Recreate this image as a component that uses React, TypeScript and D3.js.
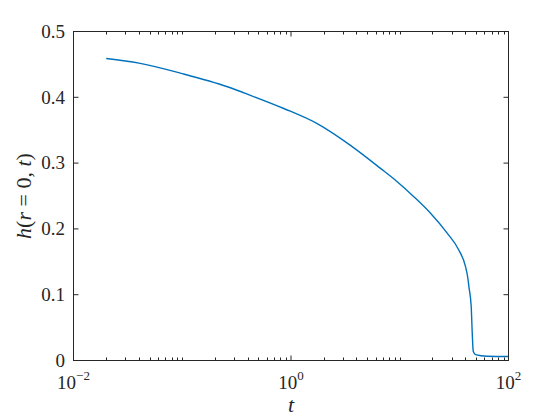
import * as d3 from "d3";

// h(r=0,t)
const tValues = [0.02, 0.04, 0.1, 0.26, 0.424, 0.859, 1.741, 3.52, 6.65, 9.48, 13.46, 19.19, 27.3, 34.9, 40.2, 42.3, 43.2, 45.4, 46.4, 47.4, 49.7, 63.7, 100];
const hValues = [0.459, 0.452, 0.436, 0.416, 0.403, 0.383, 0.36, 0.327, 0.292, 0.2717, 0.249, 0.2238, 0.1935, 0.168, 0.143, 0.125, 0.1126, 0.082, 0.042, 0.014, 0.009, 0.0065, 0.006];
const xMajor = [0.01, 1, 100];
const xMajorExp = ["\u22122", "0", "2"];
const yTickValues = [0, 0.1, 0.2, 0.3, 0.4, 0.5];

const W = 560;
const H = 420;
const left = 73.5;
const right = 508.5;
const top = 31.5;
const bottom = 360.5;
const axisColor = "#262626";
const font = "Liberation Serif, DejaVu Serif, Times New Roman, serif";

export default function App() {
  const x = d3.scaleLog().domain([0.01, 100]).range([left, right]);
  const y = d3.scaleLinear().domain([0, 0.5]).range([bottom, top]);

  const pts: [number, number][] = tValues.map((t, i) => [x(t), y(hValues[i])]);
  const line = d3.line().curve(d3.curveMonotoneX)(pts) || "";

  const minor = x.ticks().filter((t) => !xMajor.some((m) => Math.abs(m - t) < 1e-9));
  const majorLen = 5;
  const minorLen = 3;
  const txt = { fontFamily: font };

  return (
    <svg width={W} height={H} style={{ position: "absolute", left: 0, top: 0, background: "#fff" }}>
      <rect x={0} y={0} width={W} height={H} fill="#fff" />
      <path d={line} fill="none" stroke="#0072BD" strokeWidth={1.4} strokeLinejoin="round" />
      <rect x={left} y={top} width={right - left} height={bottom - top} fill="none" stroke={axisColor} strokeWidth={1} />

      {/* x ticks, inside, bottom and top */}
      {minor.map((t, i) => (
        <g key={"mn" + i} stroke={axisColor} strokeWidth={1}>
          <line x1={Math.round(x(t)) + 0.5} x2={Math.round(x(t)) + 0.5} y1={bottom} y2={bottom - minorLen} />
          <line x1={Math.round(x(t)) + 0.5} x2={Math.round(x(t)) + 0.5} y1={top} y2={top + minorLen} />
        </g>
      ))}
      {xMajor.map((t, i) => (
        <g key={"mj" + i}>
          <line x1={x(t)} x2={x(t)} y1={bottom} y2={bottom - majorLen} stroke={axisColor} />
          <line x1={x(t)} x2={x(t)} y1={top} y2={top + majorLen} stroke={axisColor} />
          <text x={x(t)} y={389} textAnchor="middle" fontSize={19} fill={axisColor} style={txt}>
            10<tspan fontSize={13} dy={-9}>{xMajorExp[i]}</tspan>
          </text>
        </g>
      ))}

      {/* y ticks, inside, left and right */}
      {yTickValues.map((v, i) => (
        <g key={"y" + i}>
          <line x1={left} x2={left + majorLen} y1={y(v)} y2={y(v)} stroke={axisColor} />
          <line x1={right} x2={right - majorLen} y1={y(v)} y2={y(v)} stroke={axisColor} />
          <text x={65} y={y(v)} dy="0.33em" textAnchor="end" fontSize={19} fill={axisColor} style={txt}>
            {v === 0 ? "0" : d3.format(".1f")(v)}
          </text>
        </g>
      ))}

      <text x={(left + right) / 2} y={412} textAnchor="middle" fontSize={22} fontStyle="italic" fill={axisColor} style={txt}>
        t
      </text>
      <text transform={`translate(31,${(top + bottom) / 2}) rotate(-90)`} textAnchor="middle" fontSize={22} fill={axisColor} style={txt}>
        <tspan fontStyle="italic">h</tspan>
        {"("}
        <tspan fontStyle="italic">r</tspan>
        {" = 0, "}
        <tspan fontStyle="italic">t</tspan>
        {")"}
      </text>
    </svg>
  );
}
